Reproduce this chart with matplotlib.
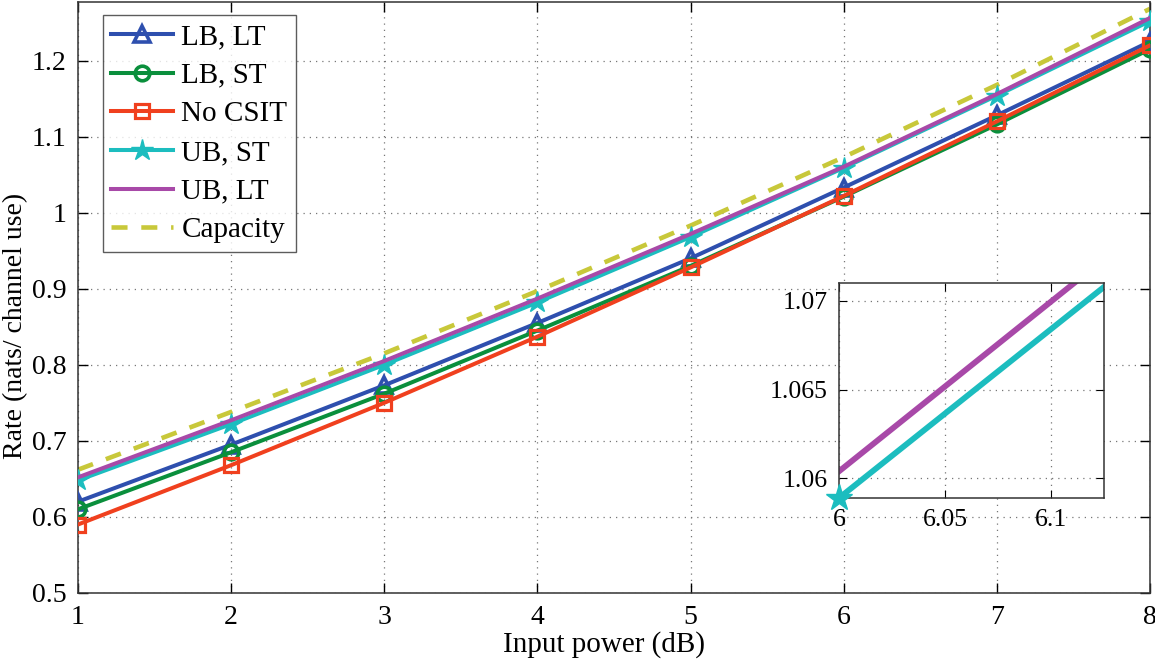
import matplotlib
matplotlib.use("Agg")
import matplotlib.pyplot as plt

plt.rcParams['font.family'] = ['Liberation Serif', 'DejaVu Serif']

power_db = [1, 2, 3, 4, 5, 6, 7, 8]
lb_lt = [0.620, 0.695, 0.773, 0.855, 0.940, 1.033, 1.128, 1.225]
lb_st = [0.610, 0.685, 0.762, 0.845, 0.930, 1.021, 1.116, 1.215]
no_csit = [0.590, 0.668, 0.750, 0.837, 0.928, 1.022, 1.120, 1.220]
ub_st = [0.648, 0.722, 0.800, 0.882, 0.968, 1.0589, 1.1539, 1.252]
ub_lt = [0.652, 0.727, 0.805, 0.887, 0.972, 1.0604, 1.1559, 1.256]
capacity = [0.662, 0.738, 0.815, 0.897, 0.983, 1.073, 1.168, 1.268]

labels = ['LB, LT', 'LB, ST', 'No CSIT', 'UB, ST', 'UB, LT', 'Capacity']
xticks = [1, 2, 3, 4, 5, 6, 7, 8]
yticks = [0.5, 0.6, 0.7, 0.8, 0.9, 1.0, 1.1, 1.2]
ytick_labels = ['0.5', '0.6', '0.7', '0.8', '0.9', '1', '1.1', '1.2']
inset_xticks = [6, 6.05, 6.1]
inset_xtick_labels = ['6', '6.05', '6.1']
inset_yticks = [1.06, 1.065, 1.07]
inset_ytick_labels = ['1.06', '1.065', '1.07']

c_blue = '#2E4FAE'
c_green = '#0A8F3C'
c_red = '#F0401E'
c_cyan = '#1CBDBF'
c_purple = '#A849A8'
c_cap = '#C8C83A'

fig = plt.figure(figsize=(11.55, 6.59), dpi=100)
ax = fig.add_axes([0.0675, 0.1002, 0.9282, 0.8968])

lw = 2.9
ax.plot(power_db, lb_lt, color=c_blue, lw=lw, marker='^', ms=12, mfc='none', mew=2.6, label=labels[0], zorder=3)
ax.plot(power_db, lb_st, color=c_green, lw=lw, marker='o', ms=10.5, mfc='none', mew=2.6, label=labels[1], zorder=3)
ax.plot(power_db, no_csit, color=c_red, lw=lw, marker='s', ms=10, mfc='none', mew=2.3, label=labels[2], zorder=4)
ax.plot(power_db, ub_st, color=c_cyan, lw=lw, marker='*', ms=16, label=labels[3], zorder=3)
ax.plot(power_db, ub_lt, color=c_purple, lw=lw, label=labels[4], zorder=3)
ax.plot(power_db, capacity, color=c_cap, lw=lw + 0.4, ls=(0, (3.5, 3)), label=labels[5], zorder=2)

ax.set_xlim(1, 8)
ax.set_ylim(0.5, 1.277)
ax.set_xticks(xticks)
ax.set_yticks(yticks)
ax.set_yticklabels(ytick_labels)
ax.tick_params(direction='in', length=7, top=True, right=True, labelsize=20, width=1)
ax.tick_params(axis='x', pad=9)
ax.tick_params(axis='y', pad=8)
ax.grid(True, ls=(0, (1, 4)), color='#777777', lw=0.9)
for s in ax.spines.values():
    s.set_color('#333333')
    s.set_linewidth(1.1)
ax.set_xlabel('Input power (dB)', fontsize=21, va='center')
ax.xaxis.set_label_coords(0.491, -0.088)
ax.set_ylabel('Rate (nats/ channel use)', fontsize=20, va='center')
ax.yaxis.set_label_coords(-0.0585, 0.452)

leg = ax.legend(loc='upper left', bbox_to_anchor=(0.023, 0.978), fontsize=21, frameon=True,
                fancybox=False, edgecolor='#333333', handlelength=2.1, handletextpad=0.3,
                labelspacing=0.42, borderpad=0.3, borderaxespad=0)
leg.get_frame().set_linewidth(1.0)

axin = fig.add_axes([0.7264, 0.2443, 0.2294, 0.3263])
axin.plot(power_db, ub_lt, color=c_purple, lw=4.2)
axin.plot(power_db, ub_st, color=c_cyan, lw=4.2)
axin.plot(power_db[5:6], ub_st[5:6], color=c_cyan, lw=0, marker='*', ms=20, clip_on=False, zorder=5)
axin.set_xlim(6, 6.125)
axin.set_ylim(1.0589, 1.071)
axin.set_xticks(inset_xticks)
axin.set_xticklabels(inset_xtick_labels)
axin.set_yticks(inset_yticks)
axin.set_yticklabels(inset_ytick_labels)
axin.tick_params(direction='in', length=6, top=True, right=True, labelsize=18.5, pad=8)
axin.grid(True, ls=(0, (1, 4)), color='#777777', lw=0.9)
for s in axin.spines.values():
    s.set_color('#333333')
    s.set_linewidth(1.1)

fig.savefig('out.png', dpi=100)
